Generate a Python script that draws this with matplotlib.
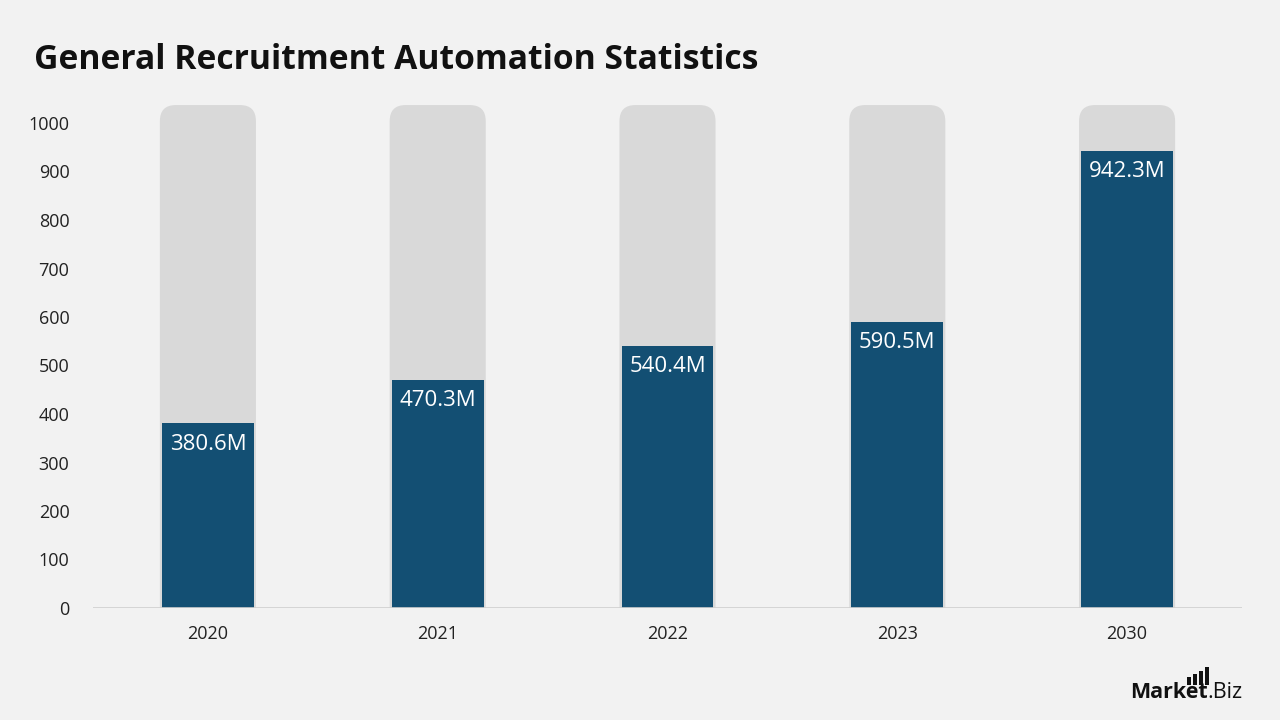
import matplotlib
matplotlib.use("Agg")
import matplotlib.pyplot as plt
from matplotlib.patches import FancyBboxPatch, Rectangle

categories = ["2020", "2021", "2022", "2023", "2030"]
values = [380.6, 470.3, 540.4, 590.5, 942.3]
labels = ["380.6M", "470.3M", "540.4M", "590.5M", "942.3M"]
yticks = [0, 100, 200, 300, 400, 500, 600, 700, 800, 900, 1000]
bg_max = 1037

BG = "#f2f2f2"
BLUE = "#134f73"
GREY = "#d9d9d9"

plt.rcParams['font.family'] = ['Open Sans', 'DejaVu Sans']

fig = plt.figure(figsize=(12.8, 7.2), dpi=100, facecolor=BG)
ax = fig.add_axes([93/1280, 112/720, 1149/1280, (608-98)/720])
ax.set_facecolor(BG)
ax.set_xlim(-0.5, len(categories) - 0.5)
ylim_top = (608-98)/0.485
ax.set_ylim(0, ylim_top)

xs = 1149 / len(categories)
ys = 0.485
r_px = 16
rx = r_px / xs
ry = r_px / ys

gw = 0.418
bw = 0.40
for i, v in enumerate(values):
    p = FancyBboxPatch((i - gw/2, -100), gw, bg_max + 100,
                       boxstyle=f"round,pad=0,rounding_size={rx}",
                       mutation_aspect=ry/rx, facecolor=GREY, edgecolor="none",
                       zorder=1, clip_on=True)
    ax.add_patch(p)
    ax.add_patch(Rectangle((i - bw/2, 0), bw, v, facecolor=BLUE,
                           edgecolor="none", zorder=2))
    ax.text(i, v - 21/ys, labels[i], ha="center", va="center", color="white",
            fontsize=16, zorder=3)

ax.axhline(0, color="#d0d0d0", lw=1.2, zorder=4)
ax.set_xticks(range(len(categories)))
ax.set_xticklabels(categories, color="#222222", fontsize=13)
ax.set_yticks(yticks)
ax.set_yticklabels([str(t) for t in yticks], color="#222222", fontsize=13)
ax.tick_params(axis="both", length=0)
ax.tick_params(axis="x", pad=12)
ax.tick_params(axis="y", pad=17)
for s in ax.spines.values():
    s.set_visible(False)

fig.text(34/1280, 1 - 60/720, "General Recruitment Automation Statistics",
         fontsize=24.2, fontweight="bold", color="#111111", va="center", ha="left")

# logo
fig.text(1130/1280, 1 - 692/720, "Market", fontsize=15.5, fontweight="bold",
         color="#111111", va="center", ha="left")
fig.text(1207/1280, 1 - 692/720, ".Biz", fontsize=15.5,
         color="#111111", va="center", ha="left")
for k, h in enumerate([8, 11, 14, 18]):
    x0 = (1187 + k*6) / 1280
    fig.add_artist(Rectangle((x0, 1 - 685/720), 3.5/1280, h/720,
                             transform=fig.transFigure, facecolor="#111111",
                             edgecolor="none"))

fig.savefig("out.png", dpi=100, facecolor=BG)
